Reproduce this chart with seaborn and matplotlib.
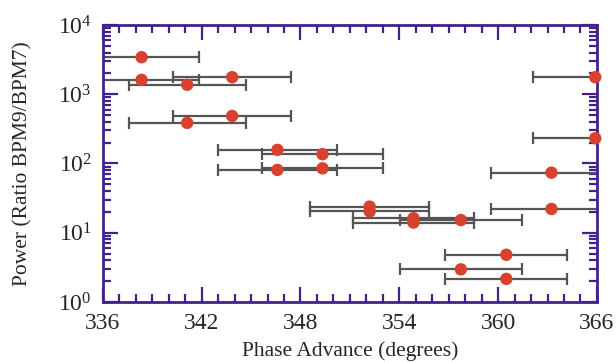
import numpy as np
import pandas as pd
import seaborn as sns
import matplotlib
matplotlib.use("Agg")
import matplotlib.pyplot as plt
from matplotlib.ticker import LogLocator, MultipleLocator, NullFormatter

# phase advance (deg), power ratio, horizontal error (deg)
phase = [338.35, 338.35, 343.85, 341.12, 343.85, 341.12, 346.6, 349.34, 346.6, 349.34,
         365.9, 365.9, 363.24, 363.24, 352.2, 352.2, 354.86, 354.86, 357.74, 360.5,
         357.74, 360.5]
power = [3420, 1610, 1760, 1370, 485, 385, 157, 136, 80.6, 85,
         1760, 231, 73.6, 22, 23.8, 20.3, 16.2, 14.0, 15.2, 4.8,
         2.95, 2.15]
phase_err = [3.5, 3.5, 3.6, 3.55, 3.6, 3.55, 3.6, 3.65, 3.6, 3.65,
             3.8, 3.8, 3.7, 3.7, 3.6, 3.6, 3.65, 3.65, 3.7, 3.7,
             3.7, 3.7]

df = pd.DataFrame({"phase": phase, "power": power, "err": phase_err})

sns.set_theme(style="white")
plt.rcParams['font.family'] = ['Liberation Serif', 'DejaVu Serif']
plt.rcParams['mathtext.fontset'] = 'stix'

spine_col = '#43218c'
fig, ax = plt.subplots(figsize=(6.16, 3.62), dpi=100)
fig.subplots_adjust(left=0.167, right=0.969, top=0.931, bottom=0.166)

ax.errorbar(df["phase"], df["power"], xerr=df["err"], fmt='none',
            ecolor='#555555', elinewidth=1.6, capsize=4, capthick=1.6, zorder=2)
sns.scatterplot(data=df, x="phase", y="power", color='#d9412e', s=80,
                edgecolor='none', zorder=3, clip_on=False, ax=ax)

ax.set_yscale('log')
ax.set_xlim(336, 366)
ax.set_ylim(1, 1e4)
ax.xaxis.set_major_locator(MultipleLocator(6))
ax.xaxis.set_minor_locator(MultipleLocator(1))
ax.yaxis.set_major_locator(LogLocator(base=10, numticks=10))
ax.yaxis.set_minor_locator(LogLocator(base=10, subs=np.arange(2, 10), numticks=10))
ax.yaxis.set_minor_formatter(NullFormatter())

for s in ax.spines.values():
    s.set_color(spine_col)
    s.set_linewidth(2)
ax.tick_params(which='both', direction='in', top=True, right=True,
               bottom=True, left=True, color=spine_col, width=1.6, labelsize=17)
ax.tick_params(which='major', length=11, pad=8)
ax.tick_params(which='minor', length=6)

ax.set_xlabel('Phase Advance (degrees)', fontsize=15.5, labelpad=5)
ax.set_ylabel('Power (Ratio BPM9/BPM7)', fontsize=15.5, labelpad=18)

plt.savefig("out.png", dpi=100)
